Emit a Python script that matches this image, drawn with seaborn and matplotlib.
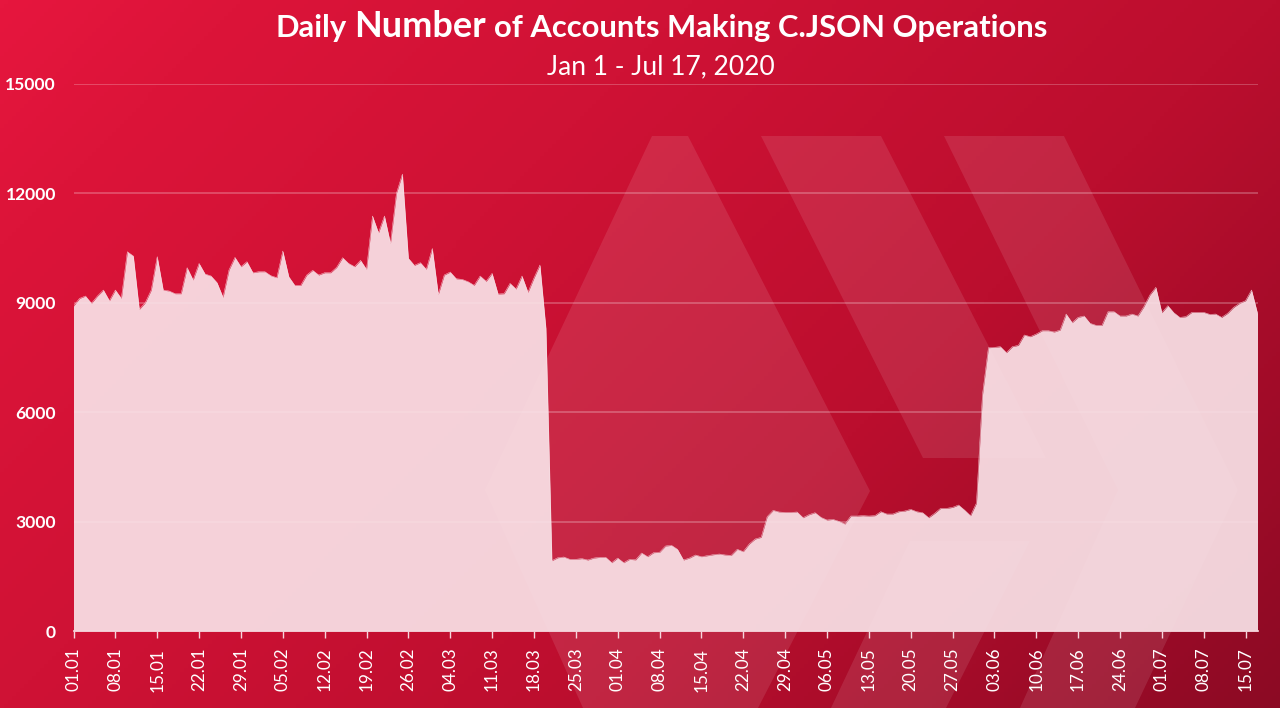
import numpy as np
import pandas as pd
import seaborn as sns
import matplotlib.pyplot as plt
from matplotlib.colors import LinearSegmentedColormap
from matplotlib.patches import Polygon

# Daily accounts, Jan 1 - Jul 17 2020
accounts = [
    8911, 9120, 9186, 8985, 9186, 9350, 9057, 9350, 9120, 10400,
    10283, 8820, 9003, 9350, 10265, 9350, 9323, 9250, 9250, 9963,
    9625, 10080, 9790, 9735, 9552, 9150, 9900, 10246, 9990, 10127,
    9825, 9853, 9853, 9743, 9688, 10420, 9716, 9479, 9479, 9762,
    9890, 9762, 9825, 9825, 9972, 10237, 10080, 9990, 10164, 9917,
    11380, 10920, 11380, 10630, 12000, 12530, 10220, 10027, 10100, 9917,
    10490, 9232, 9762, 9844, 9660, 9642, 9578, 9479, 9735, 9588,
    9808, 9241, 9250, 9533, 9378, 9735, 9287, 9680, 10036, 8300,
    1928, 2010, 2029, 1966, 1966, 1985, 1947, 2000, 2020, 2020,
    1873, 2000, 1873, 1966, 1950, 2139, 2038, 2148, 2158, 2331,
    2349, 2240, 1947, 2000, 2084, 2038, 2065, 2093, 2111, 2084,
    2075, 2240, 2176, 2386, 2523, 2569, 3135, 3308, 3263, 3253,
    3253, 3263, 3107, 3190, 3244, 3116, 3043, 3061, 3007, 2934,
    3153, 3153, 3162, 3153, 3162, 3272, 3208, 3208, 3272, 3290,
    3336, 3272, 3244, 3107, 3226, 3363, 3363, 3390, 3455, 3317,
    3160, 3510, 6470, 7769, 7779, 7797, 7632, 7797, 7833, 8117,
    8071, 8144, 8235, 8235, 8199, 8254, 8692, 8455, 8601, 8638,
    8437, 8382, 8382, 8756, 8756, 8638, 8638, 8692, 8638, 8894,
    9214, 9424, 8729, 8921, 8729, 8601, 8619, 8738, 8738, 8738,
    8683, 8692, 8601, 8711, 8875, 8985, 9058, 9351, 8710,
]
y_ticks = [0, 3000, 6000, 9000, 12000, 15000]
x_labels = [
    "01.01", "08.01", "15.01", "22.01", "29.01", "05.02", "12.02", "19.02",
    "26.02", "04.03", "11.03", "18.03", "25.03", "01.04", "08.04", "15.04",
    "22.04", "29.04", "06.05", "13.05", "20.05", "27.05", "03.06", "10.06",
    "17.06", "24.06", "01.07", "08.07", "15.07",
]

df = pd.DataFrame({
    "date": pd.date_range("2020-01-01", periods=len(accounts)),
    "accounts": accounts,
})

W, H = 1280, 708
FILL = "#f9e3e8"
sns.set_theme(style="white")
plt.rcParams["font.family"] = ["Lato", "DejaVu Sans"]

fig = plt.figure(figsize=(W / 100, H / 100), dpi=100)

# background gradient + faded logo, in pixel coords
bg = fig.add_axes([0, 0, 1, 1], zorder=0)
xx, yy = np.meshgrid(np.linspace(0, 1, 320), np.linspace(0, 1, 177))
grad = 0.65 * xx + 0.35 * yy
cmap = LinearSegmentedColormap.from_list(
    "bg", [(0, "#e6163e"), (0.12, "#dc1439"), (0.35, "#cf1235"), (0.65, "#bb0e2e"), (1, "#8c0a24")]
)
bg.imshow(grad, cmap=cmap, extent=[0, W, H, 0], aspect="auto", vmin=0, vmax=1)
logo = [
    [(652, 136), (688, 136), (870, 491), (758, 708), (583, 708), (485, 490)],
    [(761, 136), (881, 136), (1046, 458), (923, 458)],
    [(944, 136), (1064, 136), (1238, 490), (1135, 708), (1020, 708), (1118, 490)],
    [(910, 541), (1030, 541), (946, 708), (831, 708)],
]
for pts in logo:
    bg.add_patch(Polygon(pts, closed=True, fc="white", ec="none", alpha=0.1))
bg.set_xlim(0, W)
bg.set_ylim(H, 0)
bg.axis("off")

# plot area
ax = fig.add_axes([73.5 / W, 1 - 631 / H, 1184 / W, 547 / H], zorder=1)
ax.patch.set_alpha(0)
sns.lineplot(data=df, x="date", y="accounts", ax=ax, color=FILL, linewidth=0.3)
ax.fill_between(df["date"], df["accounts"], 0, color=FILL, alpha=0.92, lw=0, zorder=2)

ax.set_xlim(df["date"].iloc[0], df["date"].iloc[-1])
ax.set_ylim(0, 15000)
ax.set_xlabel("")
ax.set_ylabel("")
ax.set_xticks(df["date"].iloc[::7])
ax.set_xticklabels(x_labels, rotation=90, fontsize=12.3, color="white")
ax.set_yticks(y_ticks)
ax.set_yticklabels(y_ticks, fontsize=12.6, fontweight="bold", color="white")
ax.tick_params(axis="x", length=5, width=1, color="#f5d5dc", pad=7, bottom=True)
ax.tick_params(axis="y", length=0, pad=12.5)
ax.grid(axis="y", color="white", alpha=0.27, lw=1.2, zorder=1)
ax.set_axisbelow(True)
sns.despine(ax=ax, left=True)
ax.spines["bottom"].set_color("#f5d5dc")

# "Number" is set larger than the rest of the title
title = dict(color="white", fontweight="bold", va="baseline")
fig.text(275 / W, 1 - 37 / H, "Daily", fontsize=22.3, ha="left", **title)
fig.text(354 / W, 1 - 37 / H, "Number", fontsize=26, ha="left", **title)
fig.text(1047 / W, 1 - 37 / H, "of Accounts Making C.JSON Operations", fontsize=22.3, ha="right", **title)
fig.text(661 / W, 1 - 74 / H, "Jan 1 - Jul 17, 2020", fontsize=19, ha="center",
         va="baseline", color="white")

fig.savefig("out.png", dpi=100)
